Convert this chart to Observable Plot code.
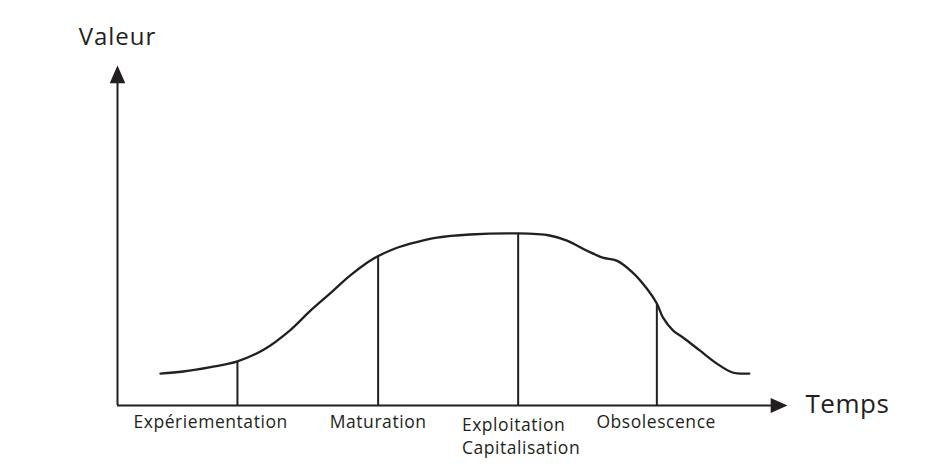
<!DOCTYPE html>
<html><head><meta charset="utf-8">
<script src="https://cdn.jsdelivr.net/npm/d3@7"></script>
<script src="https://cdn.jsdelivr.net/npm/@observablehq/plot@0.6"></script>
<style>body{margin:0;background:#fff}</style>
</head><body><div id="chart"></div>
<script>
// Curve (time, value)
const curveTime  = [0.64, 0.98, 1.39, 1.79, 2.18, 2.58, 2.88, 3.17, 3.47, 3.77, 4.07, 4.37, 4.77, 5.26, 5.98, 6.45, 6.71, 7.00, 7.24, 7.45, 7.69, 7.90, 8.05, 8.14, 8.29, 8.44, 8.69, 8.94, 9.18, 9.43];
const curveValue = [0.94, 1.00, 1.13, 1.30, 1.64, 2.22, 2.79, 3.29, 3.82, 4.26, 4.56, 4.76, 4.94, 5.03, 5.06, 5.00, 4.85, 4.56, 4.35, 4.26, 3.91, 3.44, 3.00, 2.59, 2.21, 2.00, 1.62, 1.24, 0.97, 0.94];

// Phases
const phaseLabels = ["Expériementation", "Maturation", "Exploitation\nCapitalisation", "Obsolescence"];
const phaseTime   = [1.79, 3.89, 5.98, 8.05];
const phaseValue  = [1.30, 4.35, 5.06, 3.00];
const labelTime   = [1.39, 3.89, 5.14, 8.04];

const axisTitles = ["Valeur", "Temps"];
const xMax = 10, yMax = 10;

const ink = "#231f20";
const curve = curveTime.map((t, i) => ({t, v: curveValue[i]}));
const phases = phaseTime.map((t, i) => ({t, v: phaseValue[i], label: phaseLabels[i], lx: labelTime[i]}));
const centered = phases.filter((d, i) => i !== 2);
const leftAligned = phases.filter((d, i) => i === 2);

const arrowHead = {
  draw(ctx, size) {
    const h = Math.sqrt(size);
    ctx.moveTo(0, 0);
    ctx.lineTo(h * 0.44, h);
    ctx.lineTo(-h * 0.44, h);
    ctx.closePath();
  }
};

const font = "'Open Sans', 'Noto Sans', sans-serif";

const chart = Plot.plot({
  width: 945,
  height: 473,
  marginLeft: 117,
  marginRight: 158,
  marginTop: 65,
  marginBottom: 68,
  x: {domain: [0, xMax], axis: null},
  y: {domain: [0, yMax], axis: null},
  style: {fontFamily: font, color: ink, background: "#fff"},
  marks: [
    Plot.ruleY([0], {x1: 0, x2: xMax - 0.1, stroke: ink, strokeWidth: 2}),
    Plot.ruleX([0], {y1: 0, y2: yMax - 0.1, stroke: ink, strokeWidth: 2}),
    Plot.dot([{x: 0, y: yMax}], {x: "x", y: "y", symbol: arrowHead, r: 10, fill: ink, stroke: null, rotate: 0}),
    Plot.dot([{x: xMax, y: 0}], {x: "x", y: "y", symbol: arrowHead, r: 9.5, fill: ink, stroke: null, rotate: 90}),
    Plot.ruleX(phases, {x: "t", y1: 0, y2: "v", stroke: ink, strokeWidth: 2}),
    Plot.line(curve, {x: "t", y: "v", curve: "catmull-rom", stroke: ink, strokeWidth: 2.3}),
    Plot.text(centered, {x: "lx", y: 0, text: "label", lineAnchor: "top", dy: 10, fontSize: 17.5, fill: ink}),
    Plot.text(leftAligned, {x: "lx", y: 0, text: "label", lineAnchor: "top", dy: 10, fontSize: 17.5, lineHeight: 1.28, textAnchor: "start", fill: ink}),
    Plot.text([axisTitles[0]], {x: 0, y: yMax, text: d => d, lineAnchor: "bottom", dy: -21, fontSize: 24, fill: ink}),
    Plot.text([axisTitles[1]], {x: xMax, y: 0, text: d => d, lineAnchor: "bottom", dy: 7, dx: 18, textAnchor: "start", fontSize: 26, fill: ink})
  ]
});
// letter spacing to match the reference's tracked type
chart.querySelectorAll("text").forEach(t => {
  const fs = parseFloat(t.closest("[font-size]")?.getAttribute("font-size") || 17.5);
  t.setAttribute("letter-spacing", fs > 20 ? (fs > 25 ? "0.5" : "1") : "0.55");
});
document.getElementById("chart").appendChild(chart);
</script>
</body></html>
